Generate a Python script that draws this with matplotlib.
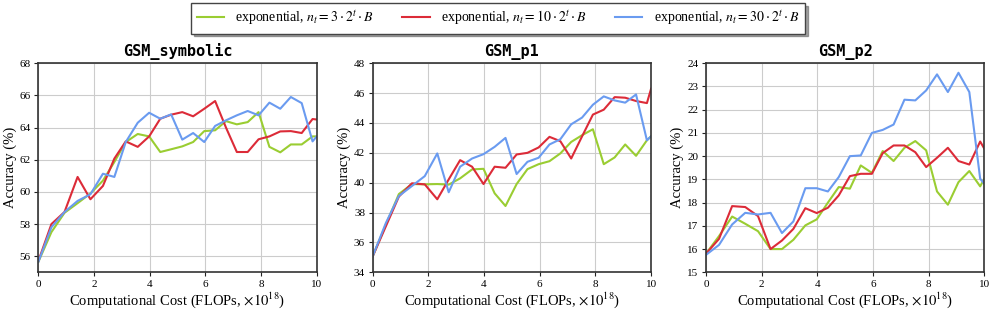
import matplotlib
matplotlib.use("Agg")
import matplotlib.pyplot as plt

plt.rcParams["font.family"] = ["Liberation Serif", "DejaVu Serif"]
plt.rcParams["mathtext.fontset"] = "stix"

# FLOPs (x10^18) at each evaluation step
flops = [0, 0.47, 0.94, 1.41, 1.87, 2.32, 2.73, 3.14, 3.57, 3.98, 4.38, 4.77, 5.17,
         5.56, 5.96, 6.35, 6.74, 7.13, 7.52, 7.91, 8.3, 8.69, 9.07, 9.46, 9.85, 10.0]

titles = ["GSM_symbolic", "GSM_p1", "GSM_p2"]
ylims = [(55, 68), (34, 48), (15, 24)]

# GSM_symbolic
sym_b3 = [55.65, 57.5, 58.7, 59.3, 59.9, 60.7, 61.86, 63.1, 63.6, 63.45, 62.48, 62.65, 62.83,
          63.1, 63.78, 63.83, 64.4, 64.2, 64.34, 64.96, 62.8, 62.46, 62.95, 62.95, 63.45, 63.45]
sym_b10 = [55.7, 58.0, 58.75, 60.93, 59.54, 60.37, 62.07, 63.14, 62.8, 63.45, 64.55, 64.8, 64.96,
           64.7, 65.17, 65.65, 64.0, 62.48, 62.48, 63.27, 63.45, 63.76, 63.78, 63.66, 64.53, 64.5]
sym_b30 = [55.65, 57.8, 58.75, 59.44, 59.85, 61.13, 60.93, 63.1, 64.3, 64.92, 64.55, 64.82, 63.25,
           63.66, 63.1, 64.1, 64.45, 64.76, 65.03, 64.76, 65.55, 65.17, 65.9, 65.52, 63.14, 63.45]

# GSM_p1
p1_b3 = [35.07, 37.18, 39.24, 39.91, 39.89, 39.91, 39.87, 40.29, 40.89, 40.93, 39.29, 38.44, 39.91,
         40.91, 41.24, 41.44, 41.96, 42.73, 43.18, 43.58, 41.24, 41.69, 42.56, 41.8, 42.84, 43.11]
p1_b10 = [35.07, 37.07, 39.07, 39.96, 39.89, 38.89, 40.22, 41.51, 41.07, 39.91, 41.07, 41.0, 41.89,
          42.0, 42.36, 43.07, 42.78, 41.62, 43.1, 44.56, 44.89, 45.73, 45.69, 45.47, 45.33, 46.29]
p1_b30 = [35.07, 37.29, 39.11, 39.78, 40.44, 41.96, 39.36, 41.07, 41.62, 41.91, 42.4, 43.0, 40.58,
          41.4, 41.67, 42.56, 42.91, 43.91, 44.36, 45.22, 45.78, 45.51, 45.36, 45.91, 42.84, 43.11]

# GSM_p2
p2_b3 = [15.8, 16.56, 17.4, 17.09, 16.77, 16.0, 16.0, 16.4, 17.02, 17.28, 18.0, 18.67, 18.6,
         19.6, 19.28, 20.22, 19.79, 20.36, 20.65, 20.25, 18.48, 17.91, 18.88, 19.36, 18.7, 19.03]
p2_b10 = [15.8, 16.44, 17.85, 17.81, 17.42, 16.0, 16.37, 16.87, 17.76, 17.55, 17.78, 18.31, 19.14,
          19.24, 19.24, 20.13, 20.46, 20.46, 20.17, 19.53, 19.93, 20.36, 19.79, 19.64, 20.63, 20.32]
p2_b30 = [15.75, 16.18, 17.06, 17.56, 17.49, 17.56, 16.69, 17.19, 18.62, 18.62, 18.48, 19.1, 20.0,
          20.03, 21.0, 21.13, 21.36, 22.43, 22.4, 22.83, 23.52, 22.76, 23.59, 22.76, 19.03, 18.81]

series = [(sym_b3, sym_b10, sym_b30), (p1_b3, p1_b10, p1_b30), (p2_b3, p2_b10, p2_b30)]
labels = [r"exponential, $n_t = 3 \cdot 2^t \cdot B$",
          r"exponential, $n_t = 10 \cdot 2^t \cdot B$",
          r"exponential, $n_t = 30 \cdot 2^t \cdot B$"]
colors = ["#9acd32", "#dc2b38", "#6a9bf0"]

fig = plt.figure(figsize=(9.96, 3.13), dpi=100)
lefts = [0.0385, 0.3742, 0.7088]
for i, left in enumerate(lefts):
    ax = fig.add_axes([left, 0.130, 0.2795, 0.668])
    for ys, c, lab in zip(series[i], colors, labels):
        ax.plot(flops, ys, color=c, lw=1.5, label=lab)
    ax.set_xlim(0, 10)
    ax.set_ylim(*ylims[i])
    ax.set_xticks([0, 2, 4, 6, 8, 10])
    ax.grid(True, color="#cccccc", lw=0.8)
    ax.set_axisbelow(True)
    ax.tick_params(labelsize=8, color="#222222", length=3, pad=2.5)
    for s in ax.spines.values():
        s.set_color("#333333")
        s.set_linewidth(1.2)
    ax.set_title(titles[i], family="DejaVu Sans Mono", fontsize=11, weight="bold", pad=5)
    ax.set_xlabel(r"Computational Cost (FLOPs, $\times 10^{18}$)", fontsize=10.5, labelpad=1)
    ax.set_ylabel("Accuracy (%)", fontsize=10.5)
    ax.yaxis.set_label_coords(-0.078, 0.5)
    if i == 0:
        handles, labs = ax.get_legend_handles_labels()

fig.legend(handles, labs, loc="center", bbox_to_anchor=(0.5, 0.941), ncol=3,
           fontsize=10, shadow=True, fancybox=False, edgecolor="#444444",
           columnspacing=2.0, handlelength=2.0, handletextpad=0.8)

fig.savefig("out.png", dpi=100)
